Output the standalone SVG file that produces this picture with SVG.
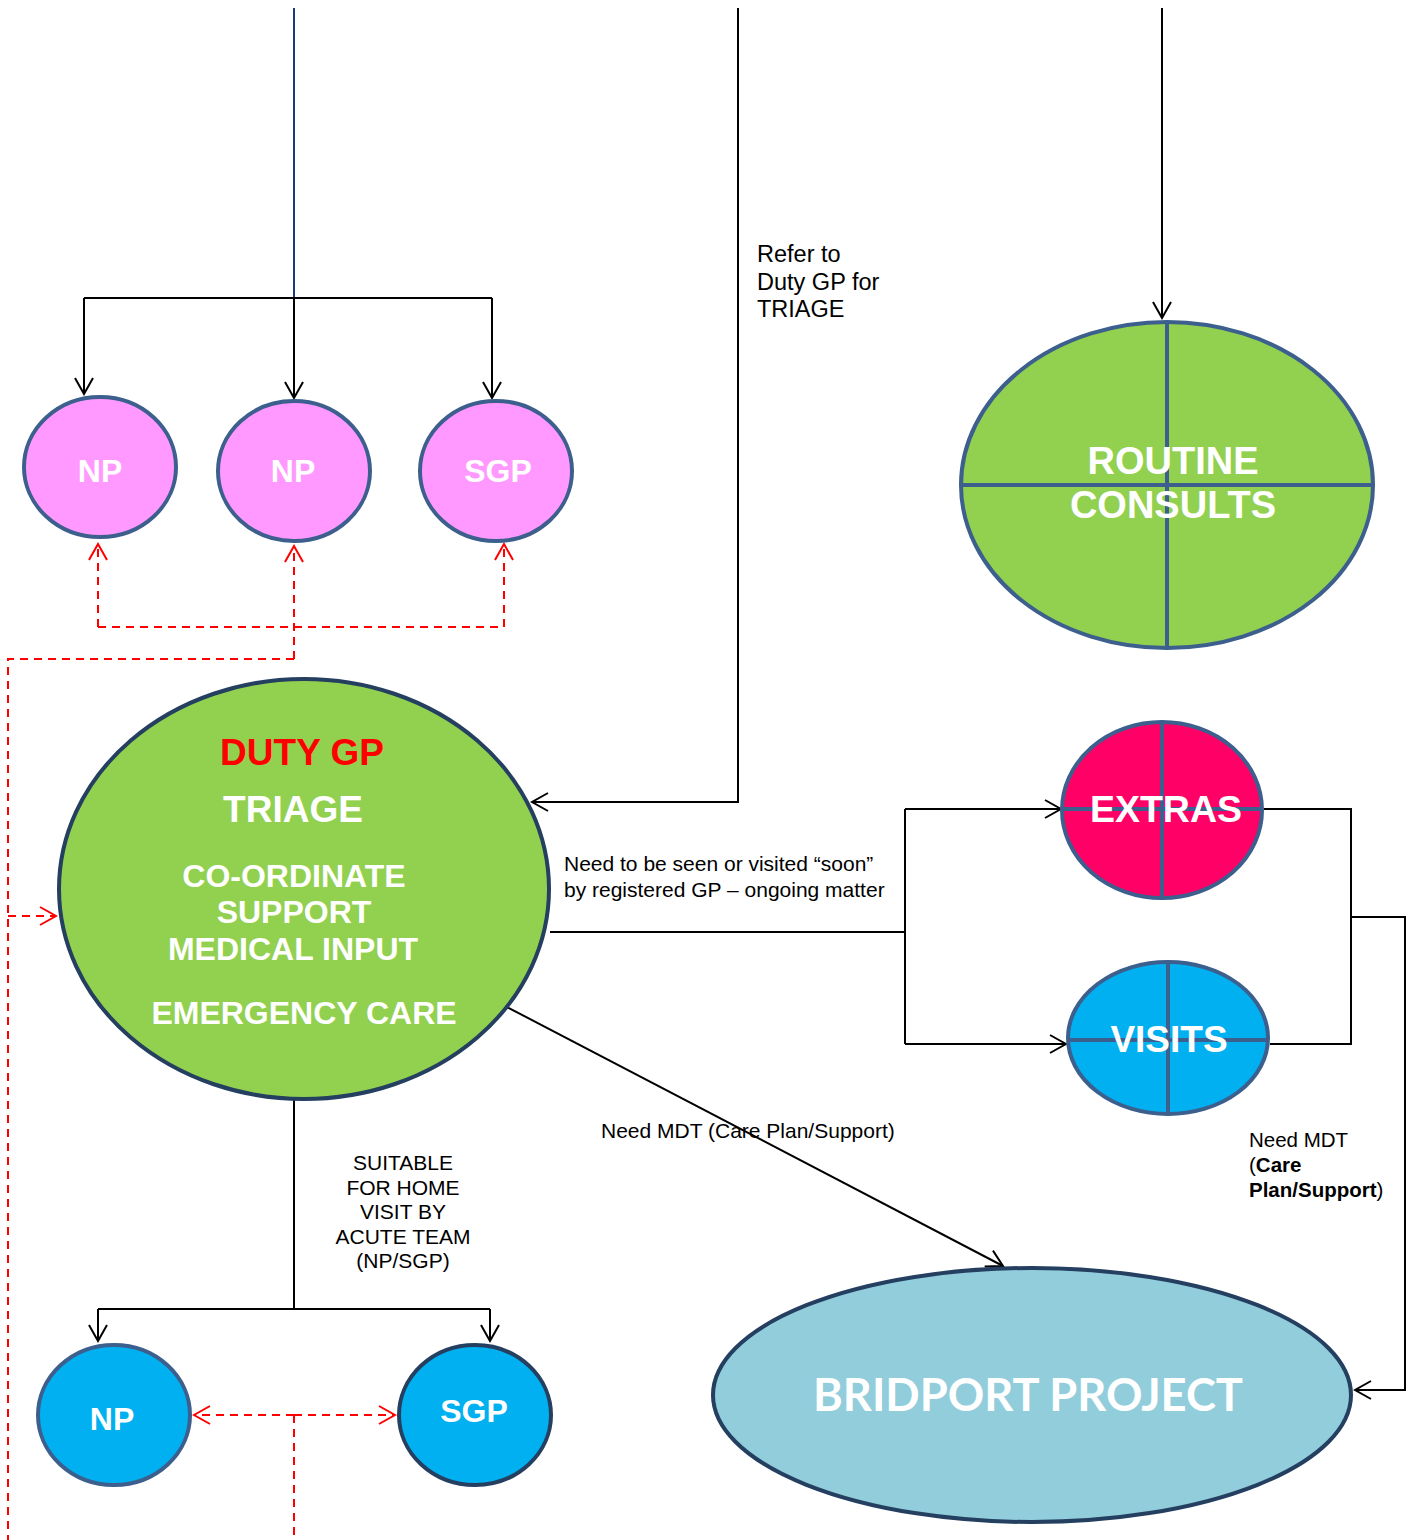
<svg xmlns="http://www.w3.org/2000/svg" width="1415" height="1540" viewBox="0 0 1415 1540">
<defs>
<marker id="ah" viewBox="0 0 20 20" refX="18" refY="10" markerWidth="20" markerHeight="20" markerUnits="userSpaceOnUse" orient="auto">
<path d="M2,1 L18,10 L2,19" fill="none" stroke="#000" stroke-width="2"/>
</marker>
<marker id="ahr" viewBox="0 0 20 20" refX="18" refY="10" markerWidth="20" markerHeight="20" markerUnits="userSpaceOnUse" orient="auto">
<path d="M2,1 L18,10 L2,19" fill="none" stroke="#FF0000" stroke-width="2"/>
</marker>
</defs>
<style>
.c{fill:none;stroke:#000;stroke-width:2}
.r{fill:none;stroke:#FF0000;stroke-width:2;stroke-dasharray:8,6}
.node{stroke:#3C5F8D;stroke-width:4}
.dark{stroke:#243F60}
.wt{font-family:"Liberation Sans",Arial,sans-serif;font-weight:bold;fill:#fff;text-anchor:middle}
.lbl{font-family:"Liberation Sans",Arial,sans-serif;fill:#000}
.x{stroke:#3C5F8D;stroke-width:4}
</style>
<rect width="1415" height="1540" fill="#fff"/>

<g id="connectors">
<line x1="294" y1="8" x2="294" y2="298" stroke="#1F3A7A" stroke-width="2"/>
<path class="c" d="M84,298 H492"/>
<path class="c" d="M84,298 V394" marker-end="url(#ah)"/>
<path class="c" d="M294,298 V398" marker-end="url(#ah)"/>
<path class="c" d="M492,298 V398" marker-end="url(#ah)"/>

<path class="r" d="M98,627 V544" marker-end="url(#ahr)"/>
<path class="r" d="M98,627 H504"/>
<path class="r" d="M504,627 V544" marker-end="url(#ahr)"/>
<path class="r" d="M294,659 V546" marker-end="url(#ahr)"/>
<path class="r" d="M294,659 H8 V1540"/>
<path class="r" d="M8,916 H56" marker-end="url(#ahr)"/>

<path class="c" d="M1162,8 V318" marker-end="url(#ah)"/>
<path class="c" d="M738,8 V802 H532" marker-end="url(#ah)"/>

<path class="c" d="M550,932 H905"/>
<path class="c" d="M905,809 V1044"/>
<path class="c" d="M905,809 H1061" marker-end="url(#ah)"/>
<path class="c" d="M905,1044 H1066" marker-end="url(#ah)"/>

<path class="c" d="M1264,809 H1351 V1044 H1270"/>
<path class="c" d="M1351,917 H1405 V1390 H1355" marker-end="url(#ah)"/>

<path class="c" d="M505,1006 L1003,1266" marker-end="url(#ah)"/>

<path class="c" d="M294,1100 V1309"/>
<path class="c" d="M98,1309 H490"/>
<path class="c" d="M98,1309 V1341" marker-end="url(#ah)"/>
<path class="c" d="M490,1309 V1341" marker-end="url(#ah)"/>

<path class="r" d="M294,1415 H194" marker-end="url(#ahr)"/>
<path class="r" d="M294,1415 H395" marker-end="url(#ahr)"/>
<path class="r" d="M294,1415 V1540"/>
</g>

<g id="np1">
<ellipse class="node" cx="100" cy="467" rx="76" ry="70" fill="#FF99FF"/>
<text class="wt" x="100" y="482" font-size="32">NP</text>
</g>
<g id="np2">
<ellipse class="node" cx="294" cy="471" rx="76" ry="70" fill="#FF99FF"/>
<text class="wt" x="293" y="482" font-size="32">NP</text>
</g>
<g id="sgp1">
<ellipse class="node" cx="496" cy="471" rx="76" ry="70" fill="#FF99FF"/>
<text class="wt" x="498" y="482" font-size="32">SGP</text>
</g>

<g id="routine">
<ellipse class="node" cx="1167" cy="485" rx="206" ry="163" fill="#92D050"/>
<line class="x" x1="1167" y1="322" x2="1167" y2="648"/>
<line class="x" x1="961" y1="485" x2="1373" y2="485"/>
<text class="wt" x="1173" y="474" font-size="38">ROUTINE</text>
<text class="wt" x="1173" y="518" font-size="38">CONSULTS</text>
</g>

<g id="refer-label">
<text class="lbl" font-size="23.5"><tspan x="757" y="262">Refer to</tspan><tspan x="757" y="290">Duty GP for</tspan><tspan x="757" y="317">TRIAGE</tspan></text>
</g>

<g id="dutygp">
<ellipse class="node dark" cx="304" cy="889" rx="245" ry="210" fill="#92D050"/>
<text class="wt" x="302" y="765" font-size="37" style="fill:#FF0000">DUTY GP</text>
<text class="wt" x="293" y="822" font-size="37">TRIAGE</text>
<text class="wt" x="294" y="887" font-size="32">CO-ORDINATE</text>
<text class="wt" x="294" y="923" font-size="32">SUPPORT</text>
<text class="wt" x="293" y="960" font-size="32">MEDICAL INPUT</text>
<text class="wt" x="304" y="1024" font-size="32">EMERGENCY CARE</text>
</g>

<g id="soon-label">
<text class="lbl" font-size="21"><tspan x="564" y="871">Need to be seen or visited “soon”</tspan><tspan x="564" y="897">by registered GP – ongoing matter</tspan></text>
</g>

<g id="extras">
<ellipse class="node" cx="1162" cy="810" rx="100" ry="88" fill="#FF0066"/>
<line class="x" x1="1162" y1="722" x2="1162" y2="898"/>
<line class="x" x1="1062" y1="809" x2="1262" y2="809"/>
<text class="wt" x="1166" y="822" font-size="37.5">EXTRAS</text>
</g>

<g id="visits">
<ellipse class="node" cx="1168" cy="1038" rx="100" ry="76" fill="#00B0F0"/>
<line class="x" x1="1168" y1="962" x2="1168" y2="1114"/>
<line class="x" x1="1068" y1="1040" x2="1268" y2="1040"/>
<text class="wt" x="1169" y="1052" font-size="37">VISITS</text>
</g>

<g id="mdt-right-label">
<text class="lbl" font-size="20.5"><tspan x="1249" y="1147">Need MDT</tspan><tspan x="1249" y="1172">(<tspan font-weight="bold">Care</tspan></tspan><tspan x="1249" y="1197"><tspan font-weight="bold">Plan/Support</tspan>)</tspan></text>
</g>

<g id="mdt-label">
<text class="lbl" font-size="21" x="601" y="1138">Need MDT (Care Plan/Support)</text>
</g>

<g id="bridport">
<ellipse class="node dark" cx="1032" cy="1395" rx="319" ry="127" fill="#92CDDC"/>
<text x="1028" y="1411" font-family="Lato, 'Open Sans', sans-serif" font-weight="bold" font-size="46" fill="#fff" text-anchor="middle" textLength="430" lengthAdjust="spacingAndGlyphs">BRIDPORT PROJECT</text>
</g>

<g id="suitable-label">
<text class="lbl" font-size="21" text-anchor="middle"><tspan x="403" y="1170">SUITABLE</tspan><tspan x="403" y="1195">FOR HOME</tspan><tspan x="403" y="1219">VISIT BY</tspan><tspan x="403" y="1244">ACUTE TEAM</tspan><tspan x="403" y="1268">(NP/SGP)</tspan></text>
</g>

<g id="np3">
<ellipse class="node" cx="114" cy="1415" rx="76" ry="70" fill="#00B0F0"/>
<text class="wt" x="112" y="1430" font-size="32">NP</text>
</g>
<g id="sgp2">
<ellipse class="node dark" cx="475" cy="1415" rx="76" ry="70" fill="#00B0F0"/>
<text class="wt" x="474" y="1422" font-size="32">SGP</text>
</g>
</svg>
